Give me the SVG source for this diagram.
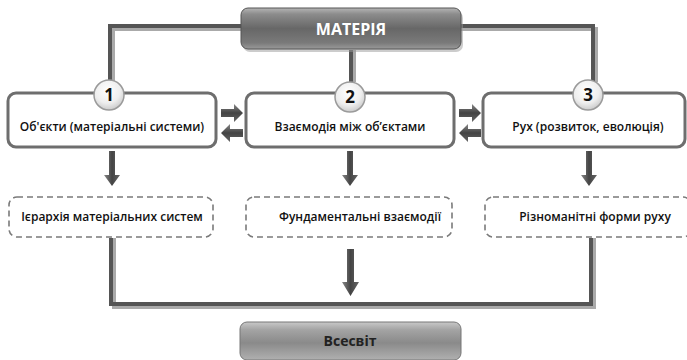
<svg xmlns="http://www.w3.org/2000/svg" width="687" height="360" viewBox="0 0 687 360">
<style>
.box{fill:#fff;stroke:#6e6e6e;stroke-width:3}
.dash{fill:#fff;stroke:#7a7a7a;stroke-width:1.6;stroke-dasharray:6 4}
.t{font-family:"Open Sans","Noto Sans",sans-serif;font-size:12px;font-weight:600;fill:#111;text-anchor:middle}
.num{font-family:"Open Sans","Noto Sans",sans-serif;font-size:17px;font-weight:700;fill:#111;text-anchor:middle}
.ln{fill:none;stroke:#555;stroke-width:4}
.lns{fill:none;stroke:#aaa;stroke-width:4}
.circ{fill:url(#cg);stroke:#9a9a9a;stroke-width:1.5}
</style>
<defs>
<linearGradient id="mg" x1="0" y1="0" x2="0" y2="1">
<stop offset="0" stop-color="#b5b5b5"/>
<stop offset="0.15" stop-color="#8c8c8c"/>
<stop offset="0.5" stop-color="#676767"/>
<stop offset="0.85" stop-color="#7a7a7a"/>
<stop offset="1" stop-color="#9a9a9a"/>
</linearGradient>
<linearGradient id="vg" x1="0" y1="0" x2="0" y2="1">
<stop offset="0" stop-color="#c8c8c8"/>
<stop offset="0.2" stop-color="#a4a4a4"/>
<stop offset="0.55" stop-color="#8a8a8a"/>
<stop offset="1" stop-color="#b0b0b0"/>
</linearGradient>
<radialGradient id="cg" cx="0.45" cy="0.35" r="0.7">
<stop offset="0" stop-color="#ffffff"/>
<stop offset="0.6" stop-color="#eeeeee"/>
<stop offset="1" stop-color="#c4c4c4"/>
</radialGradient>
<linearGradient id="ag" x1="0" y1="0" x2="0" y2="1">
<stop offset="0" stop-color="#888"/>
<stop offset="0.5" stop-color="#444"/>
<stop offset="1" stop-color="#666"/>
</linearGradient>
<linearGradient id="dg" x1="0" y1="0" x2="1" y2="0">
<stop offset="0" stop-color="#888"/>
<stop offset="0.5" stop-color="#444"/>
<stop offset="1" stop-color="#666"/>
</linearGradient>
</defs>

<g id="connectors">
<path class="lns" d="M243 29 H113 V82"/>
<path class="ln" d="M243 26 H110 V82"/>
<path class="lns" d="M461 29 H596 V82"/>
<path class="ln" d="M461 26 H593 V82"/>
<path class="lns" d="M354 50 V82"/>
<path class="ln" d="M351 50 V82"/>
<path class="lns" d="M114 238 V307 H594 V238"/>
<path class="ln" d="M111 238 V304 H591 V238"/>
<path fill="url(#ag)" d="M221 109 H234 V104 L243 113 L234 122 V117 H221 Z"/>
<path fill="url(#ag)" d="M243 129 H230 V124 L221 133 L230 142 V137 H243 Z"/>
<path fill="url(#ag)" d="M459 109 H472 V104 L481 113 L472 122 V117 H459 Z"/>
<path fill="url(#ag)" d="M481 129 H468 V124 L459 133 L468 142 V137 H481 Z"/>
<path fill="url(#dg)" d="M109 151 H115 V175 H120 L112 186 L104 175 H109 Z"/>
<path fill="url(#dg)" d="M347 151 H353 V175 H358 L350 186 L342 175 H347 Z"/>
<path fill="url(#dg)" d="M586 151 H592 V175 H597 L589 186 L581 175 H586 Z"/>
<path fill="url(#dg)" d="M347 249 H354 V282 H359 L350.5 296 L342 282 H347 Z"/>
</g>

<g id="materia">
<rect x="243" y="11" width="220" height="41" rx="7" fill="#999" opacity="0.5"/>
<rect x="241" y="8" width="220" height="41" rx="7" fill="url(#mg)" stroke="#555" stroke-width="1"/>
<text x="351" y="34.5" style="font-family:'Open Sans','Noto Sans',sans-serif;font-size:16px;font-weight:700;fill:#fff;text-anchor:middle">МАТЕРІЯ</text>
</g>

<g id="node1">
<rect class="box" x="8" y="93" width="208" height="54" rx="8"/>
<text class="t" x="112" y="131">Об'єкти (матеріальні системи)</text>
</g>
<g id="node2">
<rect class="box" x="246" y="93" width="208" height="54" rx="8"/>
<text class="t" x="350" y="131">Взаємодія між об’єктами</text>
</g>
<g id="node3">
<rect class="box" x="483" y="93" width="202" height="54" rx="8"/>
<text class="t" x="588" y="131">Рух (розвиток, еволюція)</text>
</g>

<g id="c1"><circle class="circ" cx="109" cy="95" r="15"/><text class="num" x="109" y="101">1</text></g>
<g id="c2"><circle class="circ" cx="350" cy="97" r="15"/><text class="num" x="350" y="103">2</text></g>
<g id="c3"><circle class="circ" cx="588" cy="95" r="15"/><text class="num" x="588" y="101">3</text></g>

<g id="d1">
<rect class="dash" x="9" y="197" width="204" height="40" rx="8"/>
<text class="t" x="112" y="221">Ієрархія матеріальних систем</text>
</g>
<g id="d2">
<rect class="dash" x="246" y="197" width="206" height="40" rx="8"/>
<text class="t" x="360" y="221">Фундаментальні взаємодії</text>
</g>
<g id="d3">
<rect class="dash" x="485" y="197" width="206" height="40" rx="8"/>
<text class="t" x="595" y="221">Різноманітні  форми руху</text>
</g>

<g id="vsesvit">
<rect x="240" y="322" width="221" height="38" rx="7" fill="url(#vg)" stroke="#777" stroke-width="1"/>
<text x="350" y="346" style="font-family:'Open Sans','Noto Sans',sans-serif;font-size:14px;font-weight:700;fill:#222;text-anchor:middle">Всесвіт</text>
</g>
</svg>
